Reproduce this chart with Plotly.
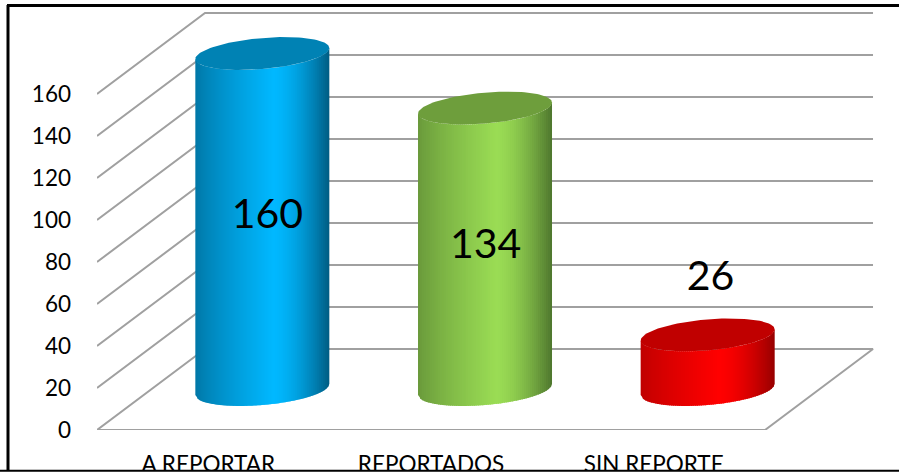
import numpy as np
import plotly.graph_objects as go

# ---- data ----
categories = ["A REPORTAR", "REPORTADOS", "SIN REPORTE"]
values = [160, 134, 26]
y_ticks = [0, 20, 40, 60, 80, 100, 120, 140, 160]
label_heights = [101, 87, 71.5]
label_shift = [0.265, 0.245, 0.255]

# ---- styles ----
W, H = 899, 472
ML, MB = 97, 42
PX_X = 222.67          # px per category
PX_Y = 2.1             # px per value unit
DX = 108 / PX_X        # depth offset in category units
DY = 81 / PX_Y         # depth offset in value units
X_RANGE = [-0.5, -0.5 + (W - ML) / PX_X]
Y_RANGE = [0, (H - MB) / PX_Y]
GRID = "#A0A0A0"
FONT = "Lato, Carlito, 'Open Sans', sans-serif"
HALF_W = 67 / PX_X
SHEAR = 5.5 / PX_Y
MINOR = 15.5 / PX_Y
STRIPS = 67
# (edge left, peak, edge right, top face)
COLORS = [
    ((0, 118, 165), (0, 184, 255), (0, 92, 130), "#0082B4"),
    ((104, 152, 58), (154, 220, 84), (78, 118, 46), "#6E9E3C"),
    ((190, 0, 0), (255, 0, 0), (150, 0, 0), "#C00000"),
]
PEAK = 0.58

fig = go.Figure()


def add_poly(xs, ys, color):
    fig.add_trace(go.Scatter(x=xs, y=ys, mode="lines", fill="toself", fillcolor=color,
                             line=dict(width=0, color=color), hoverinfo="skip", showlegend=False))


# walls and floor
for v in y_ticks[1:]:
    fig.add_trace(go.Scatter(x=[-0.5, -0.5 + DX, 2.5 + DX], y=[v, v + DY, v + DY], mode="lines",
                             line=dict(color=GRID, width=2), hoverinfo="skip", showlegend=False))
fig.add_trace(go.Scatter(x=[-0.5 + DX, -0.5, 2.5, 2.5 + DX, -0.5 + DX], y=[DY, 0, 0, DY, DY], mode="lines",
                         line=dict(color=GRID, width=2), hoverinfo="skip", showlegend=False))


def lerp(a, b, f):
    return tuple(int(round(a[i] + (b[i] - a[i]) * f)) for i in range(3))


# cylinders
for i, v in enumerate(values):
    cx = i + DX / 2
    base = DY / 2
    left, peak, right, top = COLORS[i]
    edges = np.linspace(-1, 1, STRIPS + 1)
    for k in range(STRIPS):
        u0, u1 = edges[k], min(edges[k + 1] + 0.02, 1)
        f = (k + 0.5) / STRIPS
        if f < PEAK:
            c = lerp(left, peak, (f / PEAK) ** 0.8)
        else:
            c = lerp(peak, right, ((f - PEAK) / (1 - PEAK)) ** 1.6)
        us = np.array([u0, u1])
        front = -MINOR * np.sqrt(1 - us ** 2) + SHEAR * us
        xs = cx + HALF_W * us
        add_poly([xs[0], xs[1], xs[1], xs[0], xs[0]],
                 [base + front[0], base + front[1], base + v + front[1], base + v + front[0], base + front[0]],
                 "rgb(%d,%d,%d)" % c)
    t = np.linspace(0, 2 * np.pi, 121)
    add_poly(cx + HALF_W * np.cos(t), base + v + SHEAR * np.cos(t) + MINOR * np.sin(t), top)

# value labels
fig.add_trace(go.Scatter(x=[i + s for i, s in enumerate(label_shift)], y=label_heights, mode="text",
                         text=[str(v) for v in values], textposition="middle center",
                         textfont=dict(family=FONT, size=41, color="black"),
                         hoverinfo="skip", showlegend=False))

# frame: mapped from pixels to the plot's paper fractions
def px(x):
    return (x - ML) / (W - ML)


def py(y):
    return (H - MB - y) / (H - MB)


shapes = [
    dict(type="rect", xref="paper", yref="paper", x0=px(0), x1=px(W), y0=py(470), y1=py(H),
         fillcolor="white", line_width=0, layer="above"),
    dict(type="line", xref="paper", yref="paper", x0=px(0), x1=px(W), y0=py(470.8), y1=py(470.8),
         line=dict(color="black", width=2), layer="above"),
    dict(type="line", xref="paper", yref="paper", x0=px(8), x1=px(8), y0=py(5), y1=py(471),
         line=dict(color="black", width=3), layer="above"),
    dict(type="line", xref="paper", yref="paper", x0=px(7), x1=px(W), y0=py(5.5), y1=py(5.5),
         line=dict(color="black", width=3), layer="above"),
]

fig.update_layout(
    width=W, height=H, autosize=False,
    margin=dict(l=ML, r=0, t=0, b=MB, pad=0),
    paper_bgcolor="white", plot_bgcolor="white",
    showlegend=False, shapes=shapes,
    xaxis=dict(range=X_RANGE, tickmode="array", tickvals=list(range(len(categories))), ticktext=categories,
               showgrid=False, zeroline=False, showline=False, ticks="", automargin=False,
               tickfont=dict(family=FONT, size=22.5, color="black"), ticklabelstandoff=18),
    yaxis=dict(range=Y_RANGE, tickmode="array", tickvals=y_ticks, showgrid=False, zeroline=False,
               showline=False, ticks="", automargin=False,
               tickfont=dict(family=FONT, size=22.5, color="black"), ticklabelstandoff=25),
)
fig.write_html("out.html", config={"displayModeBar": False},
               post_script="document.body.style.margin='0';document.body.style.overflow='hidden';")
